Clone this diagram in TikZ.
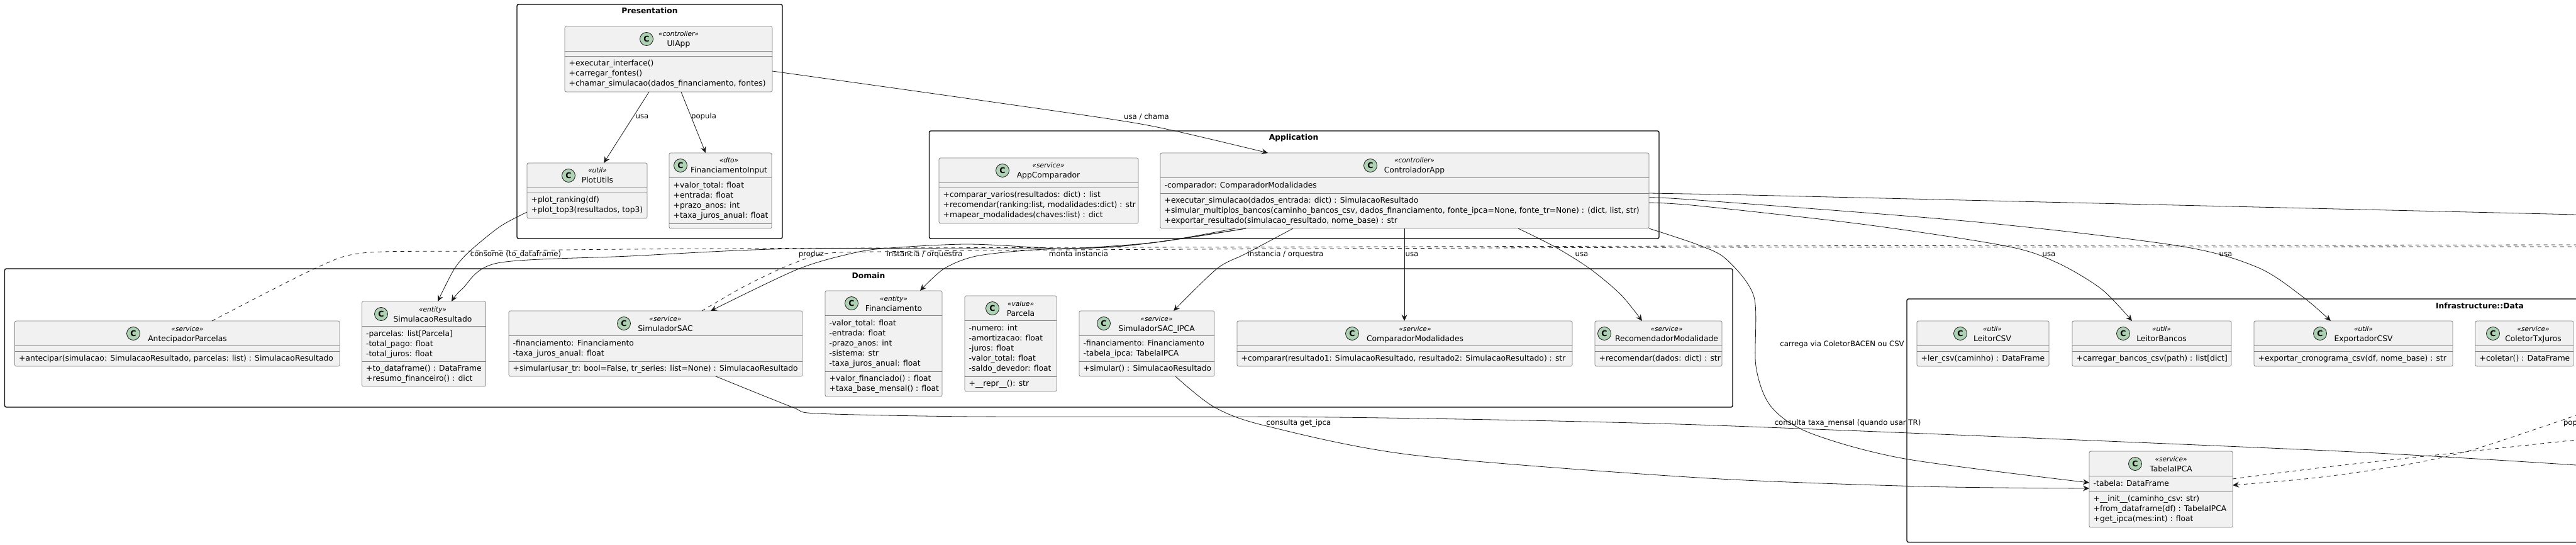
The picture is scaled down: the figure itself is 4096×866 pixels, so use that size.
\documentclass[tikz,border=0pt]{standalone}
\usepackage{fontspec}
\setmainfont{DejaVu Sans}
\usetikzlibrary{arrows.meta}
\definecolor{boxfill}{HTML}{F1F1F1}
\definecolor{boxline}{HTML}{808080}
\definecolor{spotfill}{HTML}{ADD1B2}
\definecolor{linkcol}{HTML}{181818}
\tikzset{
  pkgline/.style={draw=black, line width=1.4pt, rounded corners=2.5pt},
  pkgtitle/.style={anchor=base, inner sep=0pt, font=\fontsize{12.3}{16}\selectfont\bfseries},
  classbox/.style={draw=boxline, fill=boxfill, line width=0.8pt, rounded corners=2.5pt, anchor=north west, inner sep=0pt, outer sep=0pt},
  divline/.style={draw=boxline, line width=0.8pt},
  spot/.style={circle, draw=linkcol, fill=spotfill, line width=0.8pt, minimum size=21pt, inner sep=0pt, font=\fontsize{12.5}{14}\selectfont\bfseries},
  stereo/.style={anchor=base, inner sep=0pt, font=\fontsize{10.6}{12}\selectfont\itshape},
  classname/.style={anchor=base, inner sep=0pt, font=\fontsize{12.3}{16}\selectfont},
  members/.style={anchor=north west, align=left, inner sep=0pt, font=\fontsize{12.3}{16}\selectfont},
  conn/.style={draw=linkcol, line width=0.8pt},
  arrowconn/.style={conn, ->},
  dashconn/.style={conn, dash pattern=on 6pt off 6pt},
  linklabel/.style={inner sep=0pt, text height=9pt, text depth=2pt, font=\fontsize{11.7}{14}\selectfont},
}
% class box: name, x1, y1, x2, y2, spot x, text x, stereotype, label
\newcommand{\classhead}[9]{
  \pgfmathsetmacro{\boxw}{#4-#2}
  \pgfmathsetmacro{\boxh}{#5-#3}
  \node[classbox, minimum width=\boxw pt, minimum height=\boxh pt] (#1) at (#2,#3) {};
  \node[spot] (#1-spot) at (#6,#3+20) {C};
  \node[stereo] (#1-stereo) at (#7,#3+16) {«#8»};
  \node[classname] (#1-name) at (#7,#3+32) {#9};
}
% compartments: name, height of methods part, attributes, methods
\newcommand{\classbody}[4]{
  \draw[divline] ([yshift=-39.5pt]#1.north west) -- ([yshift=-39.5pt]#1.north east);
  \draw[divline] ([yshift=#2pt]#1.south west) -- ([yshift=#2pt]#1.south east);
  \if\relax\detokenize{#3}\relax\else
    \node[members] (#1-attr) at ([shift={(6.5pt,-44pt)}]#1.north west) {\strut #3};
  \fi
  \if\relax\detokenize{#4}\relax\else
    \node[members] (#1-meth) at ([shift={(6.5pt,#2pt-4.5pt)}]#1.south west) {\strut #4};
  \fi
}
\begin{document}
\begin{tikzpicture}[x=1pt, y=-1pt, >={Stealth[length=10pt, width=9pt, inset=3.5pt]}]
  \useasboundingbox (0,0) rectangle (4096,866);
  % Packages
  \draw[pkgline] (822,7) rectangle (1244,379);
  \node[pkgtitle] (presentation) at (1033,22) {Presentation};
  \draw[pkgline] (1477.5,208) rectangle (2638,379);
  \node[pkgtitle] (application) at (2057,223) {Application};
  \draw[pkgline] (7.5,427) rectangle (2755,647);
  \node[pkgtitle] (domain) at (1381,442) {Domain};
  \draw[pkgline] (4096,475) -- (3032,475) -- (3032,861.5) -- (4096,861.5);
  \node[pkgtitle] (infradata) at (3943,490) {Infrastructure::Data};
  % Presentation
  \classhead{uiapp}{898}{42}{1228}{146}{1028}{1079}{controller}{UIApp}
  \classbody{uiapp}{57}{}{+executar\_interface()\\+carregar\_fontes()\\+chamar\_simulacao(dados\_financiamento, fontes)}
  \classhead{plotutils}{838}{259}{1029}{347}{904}{950}{util}{PlotUtils}
  \classbody{plotutils}{41}{}{+plot\_ranking(df)\\+plot\_top3(resultados, top3)}
  \classhead{fininput}{1064}{243}{1227}{363}{1082}{1159}{dto}{FinanciamentoInput}
  \classbody{fininput}{8}{+valor\_total: float\\+entrada: float\\+prazo\_anos: int\\+taxa\_juros\_anual: float}{}
  % Application
  \classhead{appcomp}{1493}{251}{1810}{355}{1594}{1667}{service}{AppComparador}
  \classbody{appcomp}{57}{}{+comparar\_varios(resultados: dict) : list\\+recomendar(ranking:list, modalidades:dict) : str\\+mapear\_modalidades(chaves:list) : dict}
  \classhead{ctrlapp}{1845}{243}{2622}{363}{2179}{2249}{controller}{ControladorApp}
  \classbody{ctrlapp}{56}{-comparador: ComparadorModalidades}{+executar\_simulacao(dados\_entrada: dict) : SimulacaoResultado\\+simular\_multiplos\_bancos(caminho\_bancos\_csv, dados\_financiamento, fonte\_ipca=None, fonte\_tr=None) : (dict, list, str)\\+exportar\_resultado(simulacao\_resultado, nome\_base) : str}
  % Domain
  \classhead{antecipador}{23.5}{510}{540}{582}{212}{298}{service}{AntecipadorParcelas}
  \classbody{antecipador}{24}{}{+antecipar(simulacao: SimulacaoResultado, parcelas: list) : SimulacaoResultado}
  \classhead{simres}{575.5}{479}{772.5}{614}{606}{688}{entity}{SimulacaoResultado}
  \classbody{simres}{40}{-parcelas: list[Parcela]\\-total\_pago: float\\-total\_juros: float}{+to\_dataframe() : DataFrame\\+resumo\_financeiro() : dict}
  \classhead{simsac}{809}{494}{1276}{598}{992}{1058}{service}{SimuladorSAC}
  \classbody{simsac}{24}{-financiamento: Financiamento\\-taxa\_juros\_anual: float}{+simular(usar\_tr: bool=False, tr\_series: list=None) : SimulacaoResultado}
  \classhead{financiamento}{1312}{462}{1498}{630}{1354}{1421}{entity}{Financiamento}
  \classbody{financiamento}{40}{-valor\_total: float\\-entrada: float\\-prazo\_anos: int\\-sistema: str\\-taxa\_juros\_anual: float}{+valor\_financiado() : float\\+taxa\_base\_mensal() : float}
  \classhead{parcela}{1534}{470}{1680}{622}{1578}{1623}{value}{Parcela}
  \classbody{parcela}{24}{-numero: int\\-amortizacao: float\\-juros: float\\-valor\_total: float\\-saldo\_devedor: float}{+\_\_repr\_\_(): str}
  \classhead{simipca}{1716}{494}{1931}{598}{1755}{1839}{service}{SimuladorSAC\_IPCA}
  \classbody{simipca}{24}{-financiamento: Financiamento\\-tabela\_ipca: TabelaIPCA}{+simular() : SimulacaoResultado}
  \classhead{comparador}{1967}{510}{2500}{582}{2150}{2250}{service}{ComparadorModalidades}
  \classbody{comparador}{24}{}{+comparar(resultado1: SimulacaoResultado, resultado2: SimulacaoResultado) : str}
  \classhead{recomendador}{2536}{510}{2738}{582}{2551}{2650}{service}{RecomendadorModalidade}
  \classbody{recomendador}{24}{}{+recomendar(dados: dict) : str}
  % Infrastructure::Data
  \classhead{leitorcsv}{3048}{510}{3258}{582}{3117}{3168}{util}{LeitorCSV}
  \classbody{leitorcsv}{24}{}{+ler\_csv(caminho) : DataFrame}
  \classhead{leitorbancos}{3295}{510}{3548}{582}{3376}{3437}{util}{LeitorBancos}
  \classbody{leitorbancos}{24}{}{+carregar\_bancos\_csv(path) : list[dict]}
  \classhead{exportador}{3584}{510}{3900}{582}{3689}{3758}{util}{ExportadorCSV}
  \classbody{exportador}{24}{}{+exportar\_cronograma\_csv(df, nome\_base) : str}
  \classhead{coletor}{3936}{510}{4092}{582}{3964}{4028}{service}{ColetorTxJuros}
  \classbody{coletor}{24}{}{+coletar() : DataFrame}
  \classhead{tabelaipca}{3322}{717}{3550}{838}{3395}{3452}{service}{TabelaIPCA}
  \classbody{tabelaipca}{57}{-tabela: DataFrame}{+\_\_init\_\_(caminho\_csv: str)\\+from\_dataframe(df) : TabelaIPCA\\+get\_ipca(mes:int) : float}
  % Free ends at the right border
  \coordinate (outtop) at (4096,341);
  \coordinate (outdasha) at (4096,389);
  \coordinate (outdashb) at (4096,392);
  \coordinate (outtaxa) at (4096,739);
  \coordinate (outpopa) at (4096,699);
  \coordinate (outpopb) at (4096,660);
  % Presentation links
  \draw[arrowconn] (uiapp.south -| 1032,0) -- (plotutils.north -| 960,0);
  \draw[arrowconn] (uiapp.south -| 1083,0) -- (fininput.north -| 1122,0);
  \draw[arrowconn] plot[smooth] coordinates {(uiapp.east |- 0,113) (1500,151) (1771,190) (1868,208) (ctrlapp.north -| 2016,0)};
  \draw[arrowconn] plot[smooth] coordinates {(plotutils.west |- 0,337) (795,360) (746,400) (722,428) (simres.north -| 696,0)};
  % Controller links
  \draw[arrowconn] plot[smooth, tension=0.5] coordinates {(ctrlapp.south -| 1981,0) (1838,385) (1700,395) (1268,395) (1000,407) (791,418) (735,459) (simres.north -| 718,0)};
  \draw[arrowconn] plot[smooth, tension=0.5] coordinates {(ctrlapp.south -| 1964,0) (1838,385) (1700,395) (1647,393) (1536,388) (1415,394) (1357,402) (1268,428) (simsac.north -| 1130,0)};
  \draw[arrowconn] plot[smooth, tension=0.5] coordinates {(ctrlapp.south -| 1981,0) (1838,385) (1756,393) (1644,397) (1552,407) (1501,427) (financiamento.north -| 1463,0)};
  \draw[arrowconn] plot[smooth] coordinates {(ctrlapp.south -| 2056,0) (1981,403) (1935,427) (simipca.north -| 1866,0)};
  \draw[arrowconn] (ctrlapp.south -| 2233,0) -- (comparador.north -| 2233,0);
  \draw[arrowconn] plot[smooth] coordinates {(ctrlapp.south -| 2414,0) (2472,392) (2528,427) (2577,468) (recomendador.north -| 2611,0)};
  \draw[arrowconn] plot[smooth, tension=0.5] coordinates {(ctrlapp.south east) (2700,389) (2745,412) (2789,472) (2792,582) (2816,646) (2878,688) (3029,729) (tabelaipca.west |- 0,767)};
  \draw[conn] (ctrlapp.east |- 0,307) -- (2740,309) -- (outtop);
  \draw[arrowconn] plot[smooth] coordinates {(ctrlapp.east |- 0,314) (2700,318) (3145,353) (3466,391) (3590,425) (3662,472) (exportador.north -| 3706,0)};
  \draw[arrowconn] plot[smooth] coordinates {(ctrlapp.east |- 0,322) (2700,327) (2967,357) (3190,391) (3270,417) (3341,459) (leitorbancos.north -| 3390,0)};
  % Dashed links leaving the picture
  \draw[dashconn] plot[smooth] coordinates {(antecipador.north -| 337,0) (500,427) (577,402) (746,399) (1000,396) (1410,394) (2700,391) (outdasha)};
  \draw[dashconn] plot[smooth] coordinates {(simsac.north -| 1116,0) (1178,458) (1241,427) (1290,408) (1321,402) (1393,400) (1700,397) (2700,393) (outdashb)};
  % Lower links
  \draw[conn] plot[smooth, tension=0.4] coordinates {(simsac.south -| 1138,0) (1260,647) (1298,657) (1550,662) (2122,663) (2700,675) (3700,716) (outtaxa)};
  \draw[arrowconn] plot[smooth] coordinates {(simipca.south -| 1869,0) (1931,647) (2014,677) (2246,723) (2700,759) (3056,773) (tabelaipca.west |- 0,776)};
  \draw[dashconn] plot[smooth] coordinates {(tabelaipca.east |- 0,761) (3700,742) (3883,722) (outpopa)};
  \draw[dashconn, <-] plot[smooth] coordinates {(tabelaipca.east |- 0,771) (3700,757) (3833,737) (3934,714) (outpopb)};
  % Labels
  \node[linklabel] (lblusaa) at (1021,185) {usa};
  \node[linklabel] (lblpopula) at (1119,185) {popula};
  \node[linklabel] (lblchama) at (1823,186) {usa / chama};
  \node[linklabel] (lblconsome) at (820,404) {consome (to\_dataframe)};
  \node[linklabel] (lblproduz) at (1290,404) {produz};
  \node[linklabel] (lblorqa) at (1470,404) {instancia / orquestra};
  \node[linklabel] (lblmonta) at (1715,404) {monta instancia};
  \node[linklabel] (lblorqb) at (2044,404) {instancia / orquestra};
  \node[linklabel] (lblusab) at (2245,404) {usa};
  \node[linklabel] (lblusac) at (2515,404) {usa};
  \node[linklabel] (lblusad) at (3258,404) {usa};
  \node[linklabel] (lblusae) at (3539,404) {usa};
  \node[linklabel] (lblcarrega) at (2929,547) {carrega via ColetorBACEN ou CSV};
  \node[linklabel] (lblipca) at (2065,672) {consulta get\_ipca};
  \node[linklabel] (lbltaxa) at (2938,672) {consulta taxa\_mensal (quando usar TR)};
  \node[linklabel] (lblpop) at (4087,672) {pop};
\end{tikzpicture}
\end{document}
